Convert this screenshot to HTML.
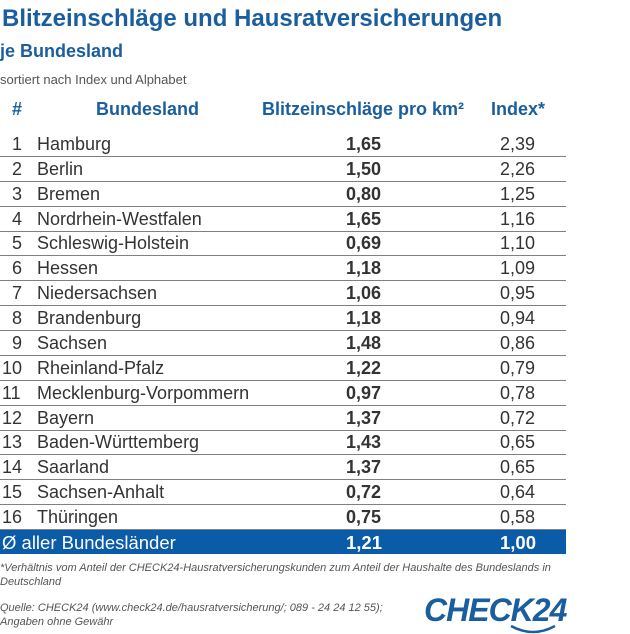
<!DOCTYPE html>
<html><head><meta charset="utf-8"><style>
body{margin:0;width:630px;height:634px;background:#fff;font-family:"Liberation Sans",sans-serif;position:relative;overflow:hidden}
.a{position:absolute;white-space:nowrap}
.t{left:2px;top:5px;font-size:24px;font-weight:bold;color:#1a5e9e}
.s{left:0;top:41px;font-size:18px;font-weight:bold;color:#1a5e9e}
.so{left:0;top:72px;font-size:13px;color:#555}
.h{top:99px;font-size:18px;font-weight:bold;color:#1a5e9e}
.row{position:absolute;left:0;width:566px;height:24px;font-size:18px;color:#333}
.row span{position:absolute;top:2px}
.sep{position:absolute;left:0;width:566px;height:1px;background:#808080}
.avg{position:absolute;left:0;top:530px;width:566px;height:24px;background:#0a5ba8;color:#fff;font-size:18.5px;font-weight:bold}
.f{font-size:11px;font-style:italic;color:#555;left:0;line-height:14px}
.logo{left:424px;top:592px;font-size:32px;font-weight:bold;font-style:italic;color:#1a5e9e;letter-spacing:-1px}
</style></head><body>
<div class="a t">Blitzeinschläge und Hausratversicherungen</div>
<div class="a s">je Bundesland</div>
<div class="a so">sortiert nach Index und Alphabet</div>
<div class="a h" style="left:12px">#</div>
<div class="a h" style="left:96px">Bundesland</div>
<div class="a h" style="left:262px">Blitzeinschläge pro km²</div>
<div class="a h" style="left:491px">Index*</div>
<div id="rows"></div>
<div class="avg">
<span class="a" style="left:2px;top:2px;font-weight:normal">Ø aller Bundesländer</span>
<span class="a" style="left:346px;top:2px">1,21</span>
<span class="a" style="left:500px;top:2px">1,00</span></div>
<div class="a f" style="top:561px">*Verhältnis vom Anteil der CHECK24-Hausratversicherungskunden zum Anteil der Haushalte des Bundeslands in<br>Deutschland</div>
<div class="a f" style="top:601px">Quelle: CHECK24 (www.check24.de/hausratversicherung/; 089 - 24 24 12 55);<br>Angaben ohne Gewähr</div>
<div class="a logo">CHECK24</div>
<svg class="a" style="left:508px;top:624px" width="50" height="10"><path d="M3 2 Q25 14 47 2" stroke="#1a5e9e" stroke-width="2.5" fill="none"/></svg>
<script>
const states=["Hamburg","Berlin","Bremen","Nordrhein-Westfalen","Schleswig-Holstein","Hessen","Niedersachsen","Brandenburg","Sachsen","Rheinland-Pfalz","Mecklenburg-Vorpommern","Bayern","Baden-Württemberg","Saarland","Sachsen-Anhalt","Thüringen"];
const lightning=["1,65","1,50","0,80","1,65","0,69","1,18","1,06","1,18","1,48","1,22","0,97","1,37","1,43","1,37","0,72","0,75"];
const indexVals=["2,39","2,26","1,25","1,16","1,10","1,09","0,95","0,94","0,86","0,79","0,78","0,72","0,65","0,65","0,64","0,58"];
const c=document.getElementById('rows');
states.forEach((s,i)=>{
 const y=132+24.87*i;
 const r=document.createElement('div');r.className='row';r.style.top=y+'px';
 
 
 const rk=i+1;
 r.innerHTML='<span style="left:'+(rk<10?12:2)+'px">'+rk+'</span><span style="left:37px">'+s+'</span><span style="left:346px;font-weight:bold">'+lightning[i]+'</span><span style="left:500px">'+indexVals[i]+'</span>';
 c.appendChild(r);
 const l=document.createElement('div');l.className='sep';l.style.top=(y+24)+'px';
 
 
 c.appendChild(l);
});
</script>
</body></html>
